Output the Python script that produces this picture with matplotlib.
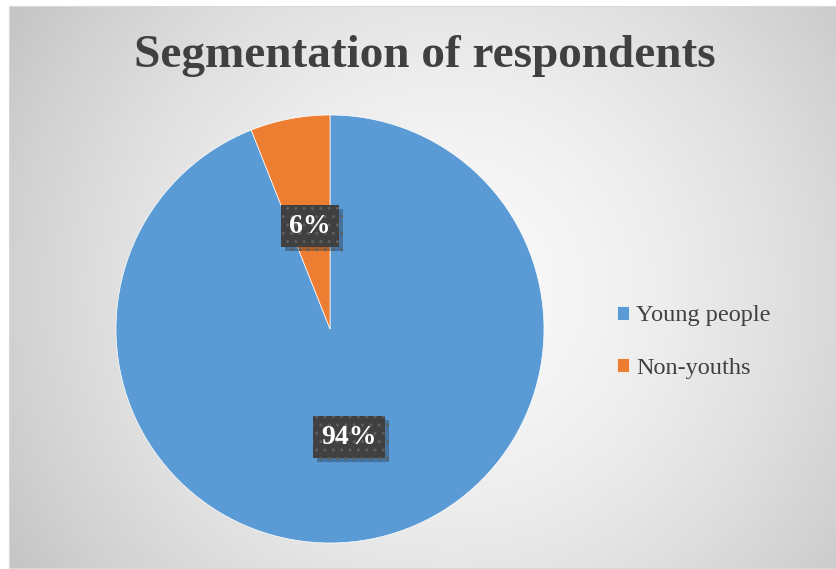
import numpy as np
import matplotlib.pyplot as plt
import matplotlib.patheffects as pe

# data
labels = ['Young people', 'Non-youths']
shares = [94, 6]
colors = ['#5B9BD5', '#ED7D31']
label_pos = [(0.089, -0.505), (-0.093, 0.481)]

W, H = 837, 569
fig = plt.figure(figsize=(W / 100, H / 100), dpi=100)
fig.patch.set_facecolor('white')

# chart area with radial gradient background
bg = fig.add_axes([9 / W, 1 / H, 828 / W, 562 / H])
yy, xx = np.mgrid[6:568, 9:837]
r = np.sqrt((xx - 450.0) ** 2 + (yy - 290.0) ** 2)
g = 250 - 55 * np.clip(r / 530, 0, 1) ** 1.6
img = np.dstack([g, g, g]) / 255.0
bg.imshow(img, aspect='auto', interpolation='bilinear')
bg.set_xticks([])
bg.set_yticks([])
for s in bg.spines.values():
    s.set_color('#d9d9d9')
    s.set_linewidth(0.8)

fig.text(425 / W, 1 - 56 / H, 'Segmentation of respondents', ha='center', va='center',
         fontsize=34, fontweight='bold', family='Liberation Serif', color='#404040')

# pie
ax = fig.add_axes([116 / W, (H - 543) / H, 428 / W, 428 / H])
wedges, _ = ax.pie(shares, colors=colors, startangle=90, counterclock=False,
                   radius=1, wedgeprops=dict(edgecolor='white', linewidth=0.5))
ax.set_xlim(-1, 1)
ax.set_ylim(-1, 1)
ax.set_aspect('equal')
ax.axis('off')

for (x, y), v in zip(label_pos, shares):
    t = ax.text(x, y, '%d%%' % v, ha='center', va='center', fontsize=20,
                fontweight='bold', family='Liberation Serif', color='white',
                bbox=dict(boxstyle='square,pad=0.3', facecolor='#404040',
                          edgecolor='#5e5e5e', linewidth=0, hatch='..'))
    t.get_bbox_patch().set_path_effects([pe.SimplePatchShadow(offset=(3, -3), alpha=0.3),
                                         pe.Normal()])

leg = fig.legend(wedges, labels, loc='center left', bbox_to_anchor=(617 / W, 1 - 342 / H),
                 frameon=False, borderpad=0, borderaxespad=0, handlelength=0.5,
                 handleheight=0.5, handletextpad=0.3, labelspacing=1.3,
                 prop={'family': 'Liberation Serif', 'size': 17.5})
for txt in leg.get_texts():
    txt.set_color('#404040')

fig.savefig('out.png', dpi=100)
